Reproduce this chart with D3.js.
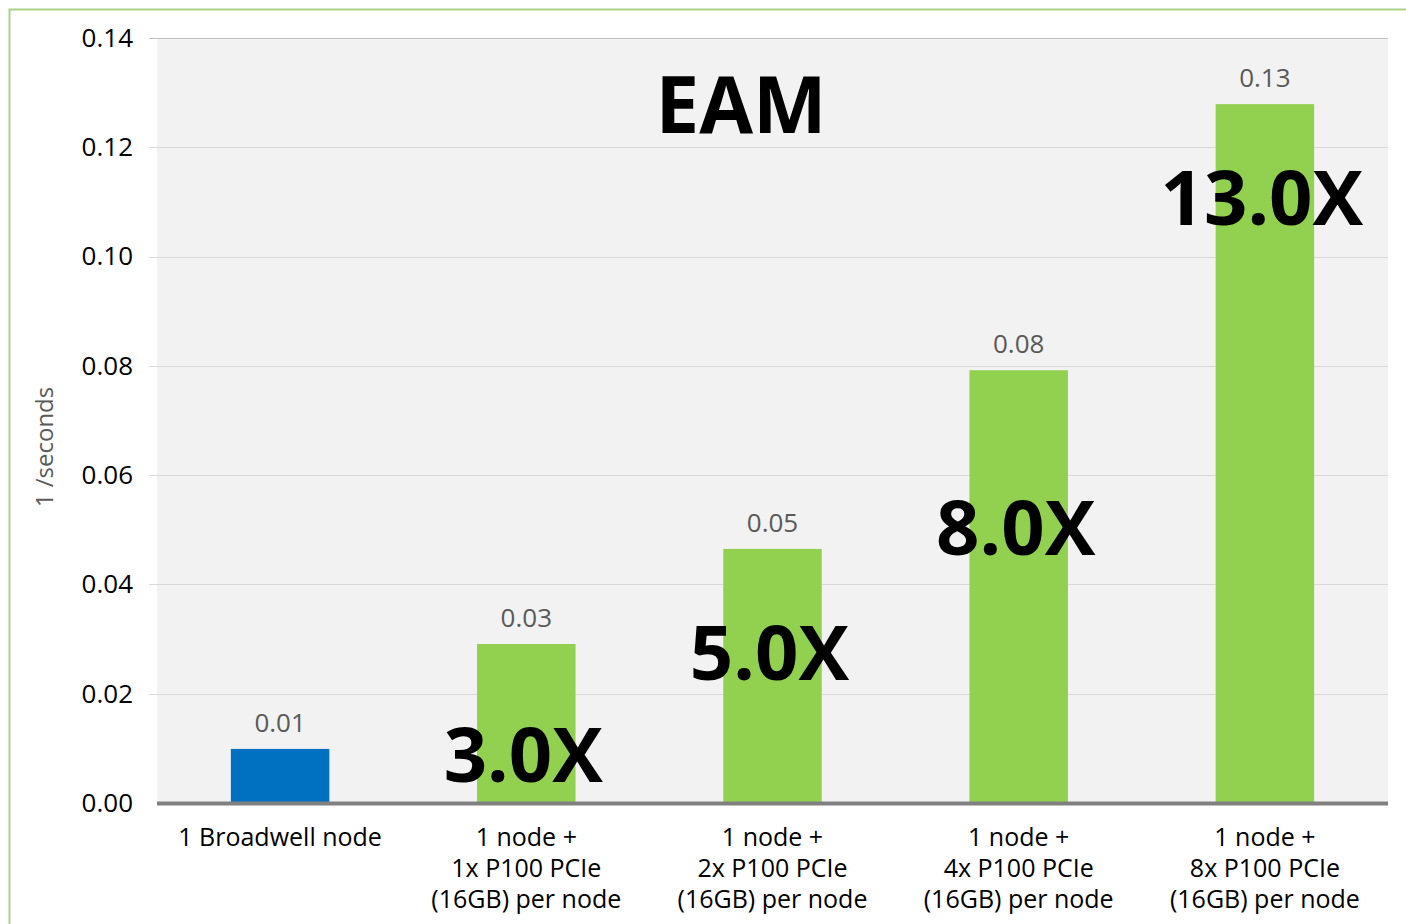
<!DOCTYPE html>
<html><head><meta charset="utf-8">
<script src="https://cdn.jsdelivr.net/npm/d3@7"></script>
<style>
html,body{margin:0;padding:0;background:#fff;}
svg{display:block;font-family:"Open Sans",sans-serif;}
</style></head>
<body>
<svg id="chart" width="1406" height="924"></svg>
<script>
const categories = [
  ["1 Broadwell node"],
  ["1 node +", "1x P100 PCIe", "(16GB) per node"],
  ["1 node +", "2x P100 PCIe", "(16GB) per node"],
  ["1 node +", "4x P100 PCIe", "(16GB) per node"],
  ["1 node +", "8x P100 PCIe", "(16GB) per node"]
];
const values = [0.0099, 0.0291, 0.0465, 0.0792, 0.1279];
const valueLabels = ["0.01", "0.03", "0.05", "0.08", "0.13"];
const barColors = ["#0070c0", "#92d050", "#92d050", "#92d050", "#92d050"];
const speedups = ["", "3.0X", "5.0X", "8.0X", "13.0X"];
const speedupAnchor = [0, 0.0039, 0.0225, 0.0453, 0.1058];
const yTicks = [0, 0.02, 0.04, 0.06, 0.08, 0.10, 0.12, 0.14];
const title = "EAM";
const yTitle = "1 /seconds";

const svg = d3.select("#chart");
const L = 157, R = 1388, T = 38, B = 803;

// outer green frame
svg.append("rect").attr("x", 9.5).attr("y", 9.5).attr("width", 1420).attr("height", 940)
  .attr("fill", "none").attr("stroke", "#a9d18e").attr("stroke-width", 2);

const x = d3.scaleBand().domain(d3.range(categories.length)).range([L, R]).paddingInner(0.6).paddingOuter(0.3);
const y = d3.scaleLinear().domain([0, 0.14]).range([B, T]);

svg.append("rect").attr("x", L).attr("y", T).attr("width", R - L).attr("height", B - T).attr("fill", "#f2f2f2");

// gridlines
svg.append("g").selectAll("line").data(yTicks.slice(1)).join("line")
  .attr("x1", 149).attr("x2", R)
  .attr("y1", d => Math.round(y(d)) + 0.5).attr("y2", d => Math.round(y(d)) + 0.5)
  .attr("stroke", d => d === 0.14 ? "#bfbfbf" : "#d9d9d9").attr("stroke-width", 1);

// y axis
const yAxis = d3.axisLeft(y).tickValues(yTicks).tickFormat(d3.format(".2f")).tickSize(0).tickPadding(24);
const ga = svg.append("g").attr("transform", `translate(${L},0)`).call(yAxis);
ga.select(".domain").remove();
ga.selectAll("text").attr("font-size", 26).attr("fill", "#000").attr("font-family", "Open Sans");

// bars
svg.append("g").selectAll("rect").data(values).join("rect")
  .attr("x", (d, i) => x(i)).attr("width", x.bandwidth())
  .attr("y", d => y(d)).attr("height", d => B - y(d))
  .attr("fill", (d, i) => barColors[i]);

// baseline
svg.append("line").attr("x1", L).attr("x2", R).attr("y1", B + 0.5).attr("y2", B + 0.5)
  .attr("stroke", "#808080").attr("stroke-width", 4);

// value labels
svg.append("g").selectAll("text").data(values).join("text")
  .attr("x", (d, i) => x(i) + x.bandwidth() / 2).attr("y", d => y(d) - 17)
  .attr("text-anchor", "middle").attr("font-size", 26).attr("fill", "#595959")
  .text((d, i) => valueLabels[i]);

// category labels
const cg = svg.append("g").selectAll("text").data(categories).join("text")
  .attr("text-anchor", "middle").attr("font-size", 25).attr("fill", "#000")
  .attr("transform", (d, i) => `translate(${x(i) + x.bandwidth() / 2},${B + 43})`);
cg.selectAll("tspan").data(d => d).join("tspan")
  .attr("x", 0).attr("dy", (d, j) => j === 0 ? 0 : 31).text(d => d);

// speedup annotations
svg.append("g").selectAll("text").data(speedups).join("text")
  .attr("x", (d, i) => x(i) + x.bandwidth() / 2 - 3).attr("y", (d, i) => y(speedupAnchor[i]))
  .attr("text-anchor", "middle").attr("font-size", 76).attr("font-weight", "bold").attr("fill", "#000")
  .text(d => d);

// title
svg.append("text").attr("x", 741).attr("y", 133).attr("text-anchor", "middle")
  .attr("font-size", 78).attr("font-weight", "bold").attr("fill", "#000").text(title);

// y title
svg.append("text").attr("transform", "translate(53,447) rotate(-90)").attr("text-anchor", "middle")
  .attr("font-size", 24).attr("fill", "#595959").text(yTitle);
</script>
</body></html>
